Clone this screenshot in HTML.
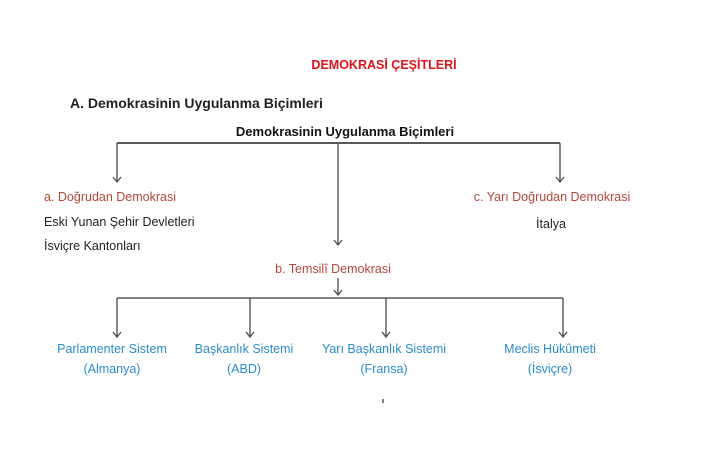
<!DOCTYPE html>
<html><head><meta charset="utf-8"><style>
html,body{margin:0;padding:0;background:#fff;}
svg{display:block;}
text{font-family:"Liberation Sans",sans-serif;}
</style></head><body>
<svg width="728" height="450" viewBox="0 0 728 450" xmlns="http://www.w3.org/2000/svg">
<text x="384" y="69" text-anchor="middle" font-size="12.5" font-weight="bold" fill="#e0131b">DEMOKRASİ ÇEŞİTLERİ</text>
<text x="70" y="108" font-size="14" font-weight="bold" fill="#222">A. Demokrasinin Uygulanma Biçimleri</text>
<text x="345" y="136" text-anchor="middle" font-size="13" font-weight="bold" fill="#111">Demokrasinin Uygulanma Biçimleri</text>
<g stroke="#555" stroke-width="1.4" fill="none">
<path d="M117 143 H560" stroke="#222"/>
<path d="M117 143 V182 M113 177 L117 182 L121 177"/>
<path d="M560 143 V182 M556 177 L560 182 L564 177"/>
<path d="M338 143 V245 M334 240 L338 245 L342 240"/>
<path d="M338 278 V295 M334 290 L338 295 L342 290"/>
<path d="M117 298 H563"/>
<path d="M117 298 V337 M113 332 L117 337 L121 332"/>
<path d="M250 298 V337 M246 332 L250 337 L254 332"/>
<path d="M386 298 V337 M382 332 L386 337 L390 332"/>
<path d="M563 298 V337 M559 332 L563 337 L567 332"/>
<path d="M383 399 V403" stroke="#000" stroke-width="1"/>
</g>
<g font-size="12.5" fill="#b5473a">
<text x="44" y="201">a. Doğrudan Demokrasi</text>
<text x="552" y="201" text-anchor="middle">c. Yarı Doğrudan Demokrasi</text>
<text x="333" y="273" text-anchor="middle">b. Temsilî Demokrasi</text>
</g>
<g font-size="12.5" fill="#222">
<text x="44" y="226">Eski Yunan Şehir Devletleri</text>
<text x="44" y="250">İsviçre Kantonları</text>
<text x="551" y="228" text-anchor="middle">İtalya</text>
</g>
<g font-size="12.5" fill="#2a8ccc" text-anchor="middle">
<text x="112" y="353">Parlamenter Sistem</text>
<text x="112" y="373">(Almanya)</text>
<text x="244" y="353">Başkanlık Sistemi</text>
<text x="244" y="373">(ABD)</text>
<text x="384" y="353">Yarı Başkanlık Sistemi</text>
<text x="384" y="373">(Fransa)</text>
<text x="550" y="353">Meclis Hükûmeti</text>
<text x="550" y="373">(İsviçre)</text>
</g>
</svg>
</body></html>
